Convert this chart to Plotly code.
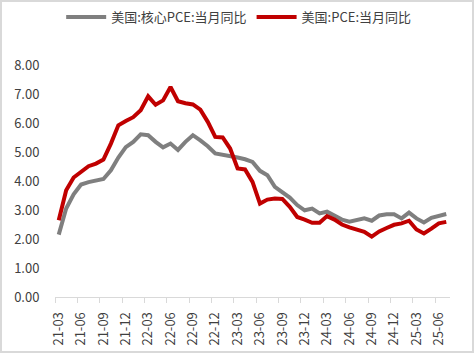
import plotly.graph_objects as go

months = [f"{y % 100:02d}-{m:02d}" for y in range(2021, 2026) for m in range(1, 13)]
months = months[months.index("21-03"):months.index("25-07") + 1]

core_pce = [2.15, 3.05, 3.54, 3.88, 3.96, 4.00, 4.07, 4.37, 4.81, 5.17,
            5.35, 5.61, 5.58, 5.35, 5.16, 5.29, 5.07, 5.35, 5.58, 5.40,
            5.20, 4.95, 4.91, 4.85, 4.81, 4.75, 4.66, 4.35, 4.20, 3.80,
            3.60, 3.43, 3.17, 2.99, 3.05, 2.88, 2.94, 2.82, 2.67, 2.60,
            2.65, 2.71, 2.63, 2.81, 2.85, 2.85, 2.71, 2.91, 2.71, 2.57,
            2.73, 2.79, 2.86]
pce = [2.65, 3.68, 4.12, 4.31, 4.51, 4.60, 4.74, 5.29, 5.92, 6.07,
       6.20, 6.44, 6.92, 6.63, 6.78, 7.24, 6.75, 6.68, 6.64, 6.46,
       6.04, 5.52, 5.50, 5.12, 4.43, 4.40, 3.97, 3.22, 3.36, 3.40,
       3.38, 3.11, 2.76, 2.67, 2.56, 2.56, 2.79, 2.67, 2.50, 2.40,
       2.34, 2.25, 2.08, 2.26, 2.38, 2.49, 2.54, 2.63, 2.33, 2.19,
       2.36, 2.54, 2.59]
series_names = ["美国:核心PCE:当月同比", "美国:PCE:当月同比"]
y_ticks = [0, 1, 2, 3, 4, 5, 6, 7, 8]

idx = list(range(len(months)))
tick_idx = [i for i, m in enumerate(months) if int(m[3:]) % 3 == 0]

FONT = "Noto Sans CJK SC, Liberation Sans, sans-serif"
fig = go.Figure()
fig.add_trace(go.Scatter(x=idx, y=core_pce, mode="lines", name=series_names[0],
                         line=dict(color="#7f7f7f", width=4)))
fig.add_trace(go.Scatter(x=idx, y=pce, mode="lines", name=series_names[1],
                         line=dict(color="#c00000", width=4)))

L, R, T, B = 55, 24, 65, 59
W, H = 474, 356
pw, ph = W - L - R, H - T - B

fig.update_layout(
    width=W, height=H,
    margin=dict(l=L, r=R, t=T, b=B, autoexpand=False),
    paper_bgcolor="white", plot_bgcolor="white",
    font=dict(family=FONT, size=13, color="#404040"),
    showlegend=True,
    legend=dict(orientation="h", x=0.465, xanchor="center", y=(ph + T - 17) / ph,
                yanchor="middle", font=dict(size=13, color="#404040"),
                bgcolor="rgba(0,0,0,0)", itemwidth=40, tracegroupgap=0),
    xaxis=dict(range=[-0.5, len(months) - 0.5], tickmode="array",
               tickvals=tick_idx, ticktext=[months[i] for i in tick_idx],
               tickangle=-90, ticks="outside", ticklen=9,
               tickcolor="rgba(0,0,0,0)", showgrid=False, zeroline=False,
               showline=True, linecolor="#d9d9d9", linewidth=1,
               tickfont=dict(size=13, color="#404040"),
               minor=dict(tickvals=[i - 0.5 for i in tick_idx], ticks="outside",
                          ticklen=5, tickcolor="#d9d9d9", tickwidth=1, showgrid=False)),
    yaxis=dict(range=[0, 8], tickmode="array", tickvals=y_ticks,
               ticktext=[f"{v:.2f}" for v in y_ticks], showgrid=False,
               zeroline=False, showline=False, ticks="outside", ticklen=12,
               tickcolor="rgba(0,0,0,0)", tickfont=dict(size=13, color="#404040")),
    shapes=[dict(type="rect", xref="paper", yref="paper",
                 x0=(-L + 1) / pw, x1=1 + (R - 1) / pw,
                 y0=(-B + 4) / ph, y1=1 + (T - 1) / ph,
                 line=dict(color="#d9d9d9", width=2), fillcolor="rgba(0,0,0,0)",
                 layer="below")],
)

fig.write_html("out.html", config={"displayModeBar": False},
               post_script="document.body.style.margin='0';document.body.style.overflow='hidden';")
